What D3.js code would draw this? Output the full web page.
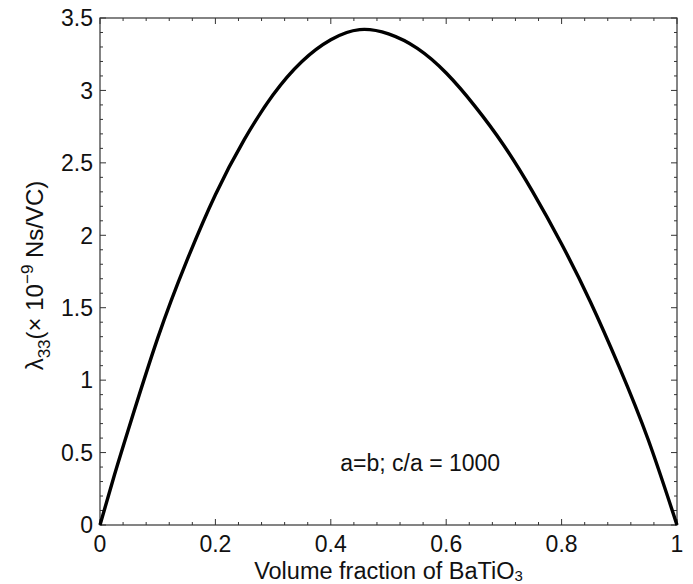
<!DOCTYPE html>
<html>
<head>
<meta charset="utf-8">
<script src="https://cdn.jsdelivr.net/npm/d3@7"></script>
<style>
  body { margin: 0; background: #fff; }
  text { font-family: "Liberation Sans", Arial, Helvetica, sans-serif; fill: #111; }
</style>
</head>
<body>
<div id="canvas"></div>
<script>
// Data
var vol_frac = [0, 0.025, 0.05, 0.1, 0.15, 0.2, 0.25, 0.3, 0.35, 0.4, 0.45, 0.5, 0.55, 0.6, 0.65, 0.7, 0.75, 0.8, 0.85, 0.9, 0.95, 1]
var lambda33 = [0, 0.345, 0.67, 1.29, 1.82, 2.28, 2.66, 2.97, 3.20, 3.35, 3.42, 3.39, 3.29, 3.12, 2.89, 2.62, 2.30, 1.94, 1.54, 1.09, 0.59, 0]
var x_ticks = [0, 0.2, 0.4, 0.6, 0.8, 1]
var x_tick_labels = ["0", "0.2", "0.4", "0.6", "0.8", "1"]
var y_ticks = [0, 0.5, 1, 1.5, 2, 2.5, 3, 3.5]
var y_tick_labels = ["0", "0.5", "1", "1.5", "2", "2.5", "3", "3.5"]

// Display variables
var total_width = 693, total_height = 584
var margin = {top: 18, right: 16, bottom: 59, left: 100}
var width = total_width - margin.left - margin.right
var height = total_height - margin.top - margin.bottom
var axis_colour = "#333"

var svg_outer = d3.select("#canvas").append("svg").attr("width", total_width).attr("height", total_height)
var svg = svg_outer.append("g").attr("transform", "translate(" + margin.left + "," + margin.top + ")")

var x = d3.scaleLinear().domain([0, 1]).range([0, width])
var y = d3.scaleLinear().domain([0, 3.5]).range([height, 0])

var x_minor = d3.range(0, 1.0001, 0.04)
var y_minor = d3.range(0, 3.5001, 0.1)

// Box
svg.append("rect").attr("width", width).attr("height", height)
    .attr("fill", "none").attr("stroke", axis_colour).attr("stroke-width", 1.2)

// Inward ticks on all four sides
function tick_len(v, step) { return Math.abs(v / step - Math.round(v / step)) < 1e-6 ? 6 : 3 }
var ticks = svg.append("g").attr("stroke", axis_colour).attr("stroke-width", 1)
x_minor.forEach(function(v) {
    var l = tick_len(v, 0.2)
    ticks.append("line").attr("x1", x(v)).attr("x2", x(v)).attr("y1", height).attr("y2", height - l)
    ticks.append("line").attr("x1", x(v)).attr("x2", x(v)).attr("y1", 0).attr("y2", l)
})
y_minor.forEach(function(v) {
    var l = tick_len(v, 0.5)
    ticks.append("line").attr("y1", y(v)).attr("y2", y(v)).attr("x1", 0).attr("x2", l)
    ticks.append("line").attr("y1", y(v)).attr("y2", y(v)).attr("x1", width).attr("x2", width - l)
})

// Tick labels
svg.selectAll(".xlab").data(x_ticks).enter().append("text")
    .attr("x", d => x(d)).attr("y", height + 27)
    .attr("text-anchor", "middle").style("font-size", "23px")
    .text((d, i) => x_tick_labels[i])
svg.selectAll(".ylab").data(y_ticks).enter().append("text")
    .attr("x", -7).attr("y", d => y(d)).attr("dy", "0.36em")
    .attr("text-anchor", "end").style("font-size", "23px")
    .text((d, i) => y_tick_labels[i])

// Curve
var line = d3.line().x((d, i) => x(vol_frac[i])).y(d => y(d)).curve(d3.curveNatural)
svg.append("path").datum(lambda33)
    .attr("fill", "none").attr("stroke", "#000").attr("stroke-width", 3.4)
    .attr("d", line)

// Annotation
svg.append("text").attr("x", x(0.555)).attr("y", y(0.37))
    .attr("text-anchor", "middle").style("font-size", "23px")
    .text("a=b; c/a = 1000")

// X label
var xl = svg.append("text").attr("x", width / 2).attr("y", height + 54)
    .attr("text-anchor", "middle").style("font-size", "23.5px")
xl.append("tspan").text("Volume fraction of BaTiO")
xl.append("tspan").attr("dy", 2).style("font-size", "15px").text("3")

// Y label
var yl = svg.append("text")
    .attr("transform", "translate(" + (-57) + "," + (height / 2 + 4) + ") rotate(-90)")
    .attr("text-anchor", "middle").style("font-size", "24px")
yl.append("tspan").text("\u03bb")
yl.append("tspan").attr("dy", 7).style("font-size", "17px").text("33")
yl.append("tspan").attr("dy", -7).text("(\u00d7 10")
yl.append("tspan").attr("dy", -10).style("font-size", "17px").text("\u22129")
yl.append("tspan").attr("dy", 10).text(" Ns/VC)")
</script>
</body>
</html>
